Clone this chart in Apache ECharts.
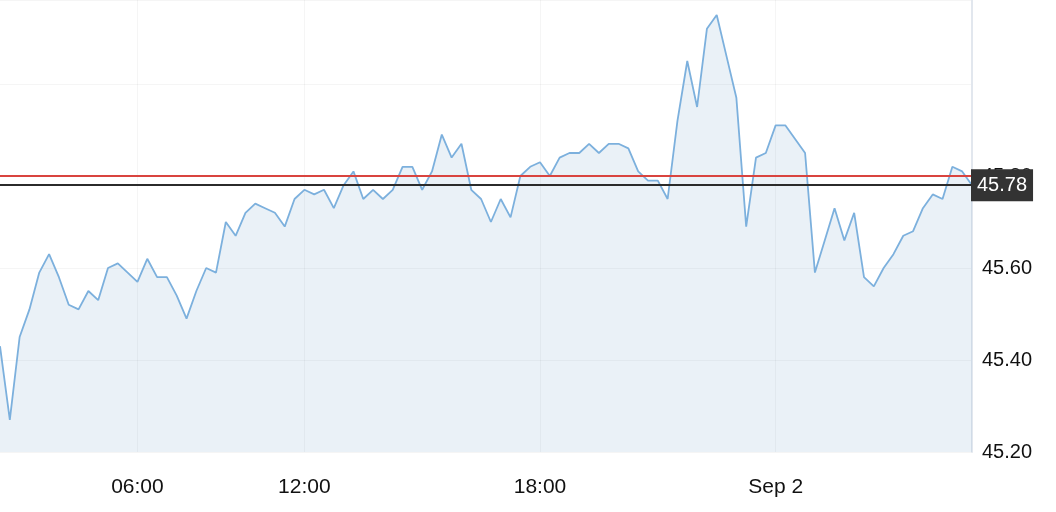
<!DOCTYPE html>
<html>
<head>
<meta charset="utf-8">
<script src="https://cdn.jsdelivr.net/npm/echarts@6/dist/echarts.min.js"></script>
<style>
  html, body { margin: 0; padding: 0; background: #fff; }
  #chart { width: 1056px; height: 512px; }
</style>
</head>
<body>
<div id="chart"></div>
<script>
// Time stamps (15-minute bars, with a gap in the morning session)
const times = [
  'Sep 1 02:30','Sep 1 02:45','Sep 1 03:00','Sep 1 03:15','Sep 1 03:30','Sep 1 03:45','Sep 1 04:00','Sep 1 04:15','Sep 1 04:30','Sep 1 04:45',
  'Sep 1 05:00','Sep 1 05:15','Sep 1 05:30','Sep 1 05:45','Sep 1 06:00','Sep 1 06:15','Sep 1 06:30','Sep 1 06:45','Sep 1 07:00','Sep 1 07:15',
  'Sep 1 07:30','Sep 1 07:45','Sep 1 08:00','Sep 1 10:00','Sep 1 10:15','Sep 1 10:30','Sep 1 10:45','Sep 1 11:00','Sep 1 11:15','Sep 1 11:30',
  'Sep 1 11:45','Sep 1 12:00','Sep 1 12:15','Sep 1 12:30','Sep 1 12:45','Sep 1 13:00','Sep 1 13:15','Sep 1 13:30','Sep 1 13:45','Sep 1 14:00',
  'Sep 1 14:15','Sep 1 14:30','Sep 1 14:45','Sep 1 15:00','Sep 1 15:15','Sep 1 15:30','Sep 1 15:45','Sep 1 16:00','Sep 1 16:15','Sep 1 16:30',
  'Sep 1 16:45','Sep 1 17:00','Sep 1 17:15','Sep 1 17:30','Sep 1 17:45','Sep 1 18:00','Sep 1 18:15','Sep 1 18:30','Sep 1 18:45','Sep 1 19:00',
  'Sep 1 19:15','Sep 1 19:30','Sep 1 19:45','Sep 1 20:00','Sep 1 20:15','Sep 1 20:30','Sep 1 20:45','Sep 1 21:00','Sep 1 21:15','Sep 1 21:30',
  'Sep 1 21:45','Sep 1 22:00','Sep 1 22:15','Sep 1 22:30','Sep 1 22:45','Sep 1 23:00','Sep 1 23:15','Sep 1 23:30','Sep 1 23:45','Sep 2 00:00',
  'Sep 2 00:15','Sep 2 00:30','Sep 2 00:45','Sep 2 01:00','Sep 2 01:15','Sep 2 01:30','Sep 2 01:45','Sep 2 02:00','Sep 2 02:15','Sep 2 02:30',
  'Sep 2 02:45','Sep 2 03:00','Sep 2 03:15','Sep 2 03:30','Sep 2 03:45','Sep 2 04:00','Sep 2 04:15','Sep 2 04:30','Sep 2 04:45','Sep 2 05:00'
];

// Prices
const prices = [
  45.43, 45.27, 45.45, 45.51, 45.59, 45.63, 45.58, 45.52, 45.51, 45.55,
  45.53, 45.60, 45.61, 45.59, 45.57, 45.62, 45.58, 45.58, 45.54, 45.49,
  45.55, 45.60, 45.59, 45.70, 45.67, 45.72, 45.74, 45.73, 45.72, 45.69,
  45.75, 45.77, 45.76, 45.77, 45.73, 45.78, 45.81, 45.75, 45.77, 45.75,
  45.77, 45.82, 45.82, 45.77, 45.81, 45.89, 45.84, 45.87, 45.77, 45.75,
  45.70, 45.75, 45.71, 45.80, 45.82, 45.83, 45.80, 45.84, 45.85, 45.85,
  45.87, 45.85, 45.87, 45.87, 45.86, 45.81, 45.79, 45.79, 45.75, 45.92,
  46.05, 45.95, 46.12, 46.15, 46.06, 45.97, 45.69, 45.84, 45.85, 45.91,
  45.91, 45.88, 45.85, 45.59, 45.66, 45.73, 45.66, 45.72, 45.58, 45.56,
  45.60, 45.63, 45.67, 45.68, 45.73, 45.76, 45.75, 45.82, 45.81, 45.78
];

const prevClose = 45.80;
const lastPrice = 45.78;
const yTicks = [45.20, 45.40, 45.60, 45.80];

function isMajor(idx) {
  const t = times[idx].split(' ')[2];
  const [h, m] = t.split(':').map(Number);
  return m === 0 && h % 6 === 0;
}

const chart = echarts.init(document.getElementById('chart'), null, { renderer: 'canvas' });
const FONT = '"Liberation Sans", Arial, Helvetica, sans-serif';

chart.setOption({
  animation: false,
  backgroundColor: '#ffffff',
  grid: { left: 0, right: 84, top: 0, bottom: 60, containLabel: false },
  xAxis: {
    type: 'category',
    data: times,
    boundaryGap: false,
    axisLine: { show: false },
    axisTick: { show: false },
    axisLabel: {
      interval: (i) => isMajor(i),
      margin: 25,
      fontSize: 21,
      fontFamily: FONT,
      color: '#111',
      formatter: (v) => {
        const parts = v.split(' ');
        return parts[2] === '00:00' ? parts[0] + ' ' + parts[1] : parts[2];
      }
    },
    splitLine: {
      show: true,
      interval: (i) => isMajor(i),
      lineStyle: { color: 'rgba(0,0,0,0.04)', width: 1 }
    }
  },
  yAxis: {
    type: 'value',
    position: 'right',
    min: 45.2,
    max: 46.1826,
    interval: 0.2,
    axisLine: { show: true, lineStyle: { color: '#e2e7ee', width: 2 } },
    axisTick: { show: false },
    axisLabel: {
      margin: 10,
      fontSize: 20,
      fontFamily: FONT,
      color: '#111',
      formatter: (v) => {
        const hit = yTicks.find(t => Math.abs(t - v) < 1e-6);
        return hit !== undefined ? hit.toFixed(2) : '';
      }
    },
    splitLine: { show: true, lineStyle: { color: 'rgba(0,0,0,0.04)', width: 1 } }
  },
  series: [{
    type: 'line',
    data: prices,
    showSymbol: false,
    symbol: 'none',
    lineStyle: { color: '#7cb0dd', width: 1.8 },
    areaStyle: { color: 'rgba(60,125,175,0.15)' },
    markLine: {
      silent: true,
      symbol: ['none', 'none'],
      animation: false,
      data: [
        {
          yAxis: prevClose,
          lineStyle: { color: '#d9443f', width: 2, type: 'solid' },
          label: { show: false }
        },
        {
          yAxis: lastPrice,
          lineStyle: { color: '#2b2b2b', width: 2, type: 'solid' },
          label: {
            show: true,
            position: 'end',
            distance: -1,
            formatter: () => lastPrice.toFixed(2),
            color: '#ffffff',
            backgroundColor: '#333333',
            fontSize: 20,
            fontFamily: FONT,
            padding: [6, 6, 6, 6],
            align: 'left'
          }
        }
      ]
    }
  }]
});
</script>
</body>
</html>
